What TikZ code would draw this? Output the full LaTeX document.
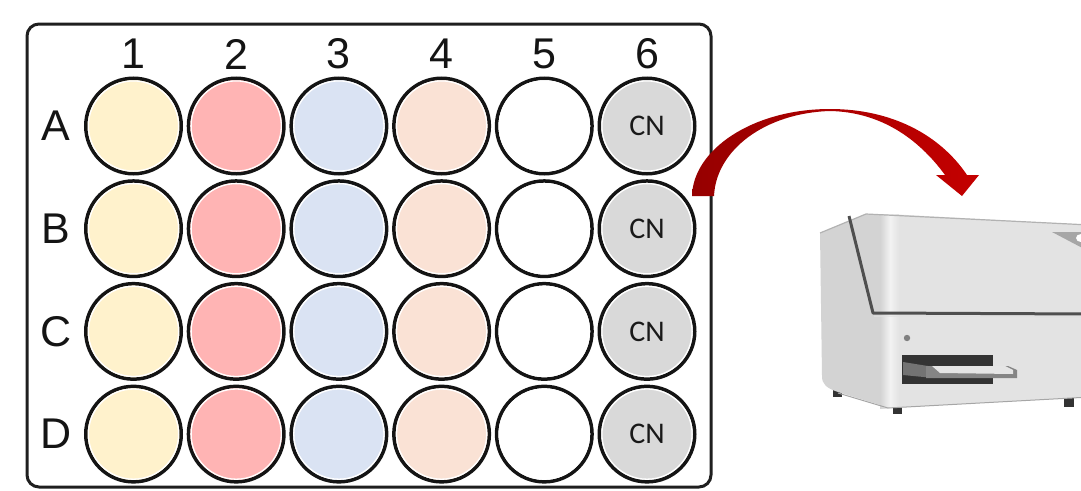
\documentclass[tikz,border=0pt]{standalone}
\usepackage{fontspec}
\setmainfont{Liberation Sans}
\newfontfamily\cnfont{Carlito}
\definecolor{wellone}{HTML}{FFF2CC}
\definecolor{welltwo}{HTML}{FFB4B4}
\definecolor{wellthree}{HTML}{DAE3F3}
\definecolor{wellfour}{HTML}{FAE2D5}
\definecolor{wellfive}{HTML}{FFFFFF}
\definecolor{wellsix}{HTML}{D9D9D9}
\definecolor{arrowdark}{HTML}{960000}
\definecolor{arrowlight}{HTML}{C40000}
\definecolor{rfront}{HTML}{E3E3E3}
\definecolor{rside}{HTML}{D3D3D3}
\definecolor{rseam}{HTML}{4F4F4F}
\definecolor{rdark}{HTML}{333333}
\begin{document}
\begin{tikzpicture}[x=1pt,y=-1pt,
  plate/.style={draw=black!88, line width=3pt, rounded corners=12pt},
  well/.style={circle, draw=black!92, line width=3.5pt, minimum size=95.5pt, inner sep=0pt},
  lbl/.style={inner sep=0pt, font=\fontsize{43}{43}\selectfont, text=black!92},
  cn/.style={inner sep=0pt, font=\cnfont\fontsize{30}{30}\selectfont, text=black!90},
]
\useasboundingbox (0,0) rectangle (1081,490);

% ---- 24-well plate ----
\draw[plate] (27,24) rectangle (711,487);

\foreach \i in {1,...,6}
  \node[lbl] (col\i) at ({133.5+102.7*(\i-1)},54) {\i};
\foreach \r [count=\j] in {A,B,C,D}
  \node[lbl] (row\r) at (56,{126+102.7*(\j-1)}) {\r};

\foreach \i/\col in {1/wellone,2/welltwo,3/wellthree,4/wellfour,5/wellfive,6/wellsix}
  \foreach \r [count=\j] in {A,B,C,D} {
    \node[well, fill=\col] (\r\i) at ({133.5+102.7*(\i-1)},{126+102.7*(\j-1)}) {};
    \draw[white, line width=1.3pt] (\r\i.center) circle[radius=45.1pt];
  }
\foreach \r in {A,B,C,D}
  \node[cn] (cn\r) at (\r6.center) {CN};

% ---- curved transfer arrow ----
\coordinate (arrowstart) at (703,196);
\coordinate (arrowtip) at (962,196);
\shade[left color=arrowdark, right color=arrowlight]
  (692,196) .. controls (693,150) and (752,109) .. (830,109)
  .. controls (892,109) and (940,135) .. (967,175)
  -- (979,175) -- (arrowtip) -- (936,175) -- (945,175)
  .. controls (918,138) and (880,112) .. (830,111)
  .. controls (765,113) and (716,150) .. (714,196) -- cycle;

% ---- plate reader ----
\begin{scope}
\clip (0,0) rectangle (1081,490);
% feet
\fill[rdark] (833,388) rectangle (842,397);
\fill[rdark] (893,405) rectangle (902,414);
\fill[rdark] (1064,397) rectangle (1074,407);
% left side panel
\fill[rside] (820,233) -- (866,214) -- (890,214) -- (890,408)
  -- (838,392) .. controls (826,388) and (822,384) .. (822,376) -- cycle;
% front face
\fill[rfront] (888,214) -- (1090,225) -- (1090,397) -- (888,408) -- cycle;
% rounded front edge highlight
\shade[left color=rside, right color=white!95!black] (880,214) rectangle (890,408);
\shade[left color=white!95!black, right color=rfront] (890,214) rectangle (899,407.5);
% top edge
\draw[black!30, line width=1.2pt] (820,233) -- (866,214) -- (1090,225);
\draw[black!35, line width=1pt] (838,393) -- (888,408) -- (1090,397);
% lid seam
\draw[rseam, line width=3pt, line join=round] (849,216) -- (873,313) -- (1090,314);
\draw[black!12, line width=1pt] (874,316) -- (1090,317);
% status light
\fill[black!50] (907,338) circle[radius=3.2pt];
% tray slot
\fill[rdark] (902,355) rectangle (993,384);
\fill[black!55] (903,362) -- (934,367) -- (934,378) -- (903,375) -- cycle;
\fill[black!48] (926,366) -- (1008,366) -- (1017,370) -- (1017,378) -- (926,378) -- cycle;
\fill[black!10] (932,366) -- (1005,366) -- (1013,370) -- (1013,374) -- (940,373) -- cycle;
% top-right vent
\fill[black!35] (1052,232) -- (1090,232) -- (1090,252) -- cycle;
\fill[white] (1081,238) ellipse[x radius=5pt, y radius=4pt];
\end{scope}
\end{tikzpicture}
\end{document}
